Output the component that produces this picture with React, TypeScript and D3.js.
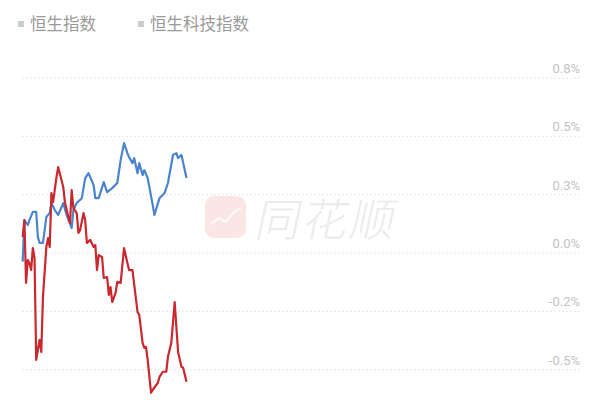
import { useEffect, useRef } from 'react';
import * as d3 from 'd3';

// minutes since open, % change
const hsiPoints: [number, number][] = [
  [0, 0.068], [1, 0.141], [2, -0.128], [3, -0.03], [4, -0.043], [5, -0.073], [6, 0.021],
  [7, -0.021], [8, -0.458], [10, -0.372], [11, -0.424], [12, -0.188], [14, 0.026], [15, 0.064],
  [16, 0.026], [17, 0.257], [18, 0.218], [20, 0.325], [21, 0.368], [24, 0.283], [25, 0.218],
  [27, 0.154], [28, 0.128], [29, 0.27], [30, 0.193], [32, 0.171], [33, 0.086], [34, 0.098],
  [36, 0.171], [37, 0.141], [38, 0.043], [40, 0.056], [42, 0.026], [43, 0.034], [44, -0.073],
  [45, -0.009], [47, -0.017], [48, -0.107], [50, -0.103], [51, -0.18], [52, -0.146], [53, -0.21],
  [55, -0.171], [56, -0.124], [58, -0.128], [60, 0.021], [62, -0.043], [63, -0.073], [65, -0.073],
  [68, -0.253], [69, -0.265], [71, -0.385], [72, -0.407], [73, -0.402], [74, -0.458], [76, -0.599],
  [77, -0.586], [80, -0.557], [81, -0.531], [83, -0.509], [85, -0.509], [86, -0.445], [88, -0.385],
  [90, -0.21], [91, -0.317], [92, -0.424], [94, -0.488], [95, -0.492], [97, -0.552],
];

const hstechPoints: [number, number][] = [
  [0, -0.037], [1, 0.141], [3, 0.12], [4, 0.141], [6, 0.176], [8, 0.176], [9, 0.068],
  [10, 0.043], [12, 0.043], [14, 0.154], [16, 0.171], [17, 0.214], [19, 0.184], [21, 0.163],
  [24, 0.214], [26, 0.163], [29, 0.107], [30, 0.184], [32, 0.214], [35, 0.235], [37, 0.321],
  [39, 0.342], [42, 0.291], [43, 0.235], [45, 0.235], [48, 0.304], [50, 0.261], [53, 0.278],
  [56, 0.3], [58, 0.398], [60, 0.471], [62, 0.428], [63, 0.411], [65, 0.385], [66, 0.407],
  [68, 0.342], [69, 0.385], [71, 0.334], [72, 0.355], [74, 0.321], [77, 0.205], [78, 0.163],
  [81, 0.235], [84, 0.257], [86, 0.3], [89, 0.42], [91, 0.428], [92, 0.407], [94, 0.42], [97, 0.321],
];

const tickValues = [0.75, 0.5, 0.25, 0, -0.25, -0.5];
const tickLabels = ['0.8%', '0.5%', '0.3%', '0.0%', '-0.2%', '-0.5%'];
const legendNames = ['恒生指数', '恒生科技指数'];

const TRADING_MINUTES = 330;
const W = 600;
const H = 400;

export default function App() {
  const svgRef = useRef<SVGSVGElement>(null);

  useEffect(() => {
    document.body.style.margin = '0';
    const svg = d3.select(svgRef.current);
    if (!svg.node()) return;
    svg.selectAll('*').remove();

    const x = d3.scaleLinear().domain([0, TRADING_MINUTES]).range([22.7, 580]);
    const y = d3.scaleLinear().domain([0, 0.75]).range([253, 78]);

    // watermark
    const wm = svg.append('g').attr('opacity', 0.9);
    wm.append('rect')
      .attr('x', 205).attr('y', 196).attr('width', 41).attr('height', 42).attr('rx', 9)
      .attr('fill', '#fbe4e4');
    wm.append('path')
      .attr('d', 'M211,224 L219,218 L226,222 L234,212 L241,208')
      .attr('fill', 'none').attr('stroke', '#fff').attr('stroke-width', 2).attr('opacity', 0.8);
    wm.append('text')
      .attr('x', 254).attr('y', 236)
      .attr('transform', 'skewX(-12) translate(50,0)')
      .attr('font-family', '"Noto Sans CJK SC", sans-serif')
      .attr('font-size', 45)
      .attr('font-weight', 300)
      .attr('fill', '#ebebeb')
      .attr('letter-spacing', 2)
      .text('同花顺');

    // grid
    const grid = svg.append('g');
    grid.selectAll('line')
      .data(tickValues)
      .join('line')
      .attr('x1', 22).attr('x2', 580)
      .attr('y1', (d) => y(d)).attr('y2', (d) => y(d))
      .attr('stroke', '#e6e6e6')
      .attr('stroke-width', 1)
      .attr('stroke-dasharray', '2,2');

    grid.selectAll('text')
      .data(tickValues)
      .join('text')
      .attr('x', 580)
      .attr('y', (d) => y(d) - 5)
      .attr('text-anchor', 'end')
      .attr('font-family', 'Roboto, "Noto Sans", sans-serif')
      .attr('font-size', 13)
      .attr('fill', '#c4c4c4')
      .text((_d, i) => tickLabels[i]);

    // lines
    const line = d3.line<[number, number]>()
      .x((d) => x(d[0]))
      .y((d) => y(d[1]));

    svg.append('path')
      .datum(hstechPoints)
      .attr('d', line)
      .attr('fill', 'none')
      .attr('stroke', '#4a84cf')
      .attr('stroke-width', 2.2)
      .attr('stroke-linejoin', 'round');

    svg.append('path')
      .datum(hsiPoints)
      .attr('d', line)
      .attr('fill', 'none')
      .attr('stroke', '#c9282e')
      .attr('stroke-width', 2.2)
      .attr('stroke-linejoin', 'round');

    // legend
    const legendX = [18, 138];
    const legend = svg.append('g')
      .selectAll('g')
      .data(legendNames)
      .join('g')
      .attr('transform', (_d, i) => `translate(${legendX[i]},0)`);
    legend.append('rect')
      .attr('x', 0).attr('y', 21).attr('width', 6).attr('height', 6)
      .attr('fill', '#cccccc');
    legend.append('text')
      .attr('x', 12).attr('y', 30)
      .attr('font-family', '"Noto Sans CJK SC", sans-serif')
      .attr('font-size', 16.5)
      .attr('fill', '#9a9a9a')
      .text((d) => d);
  }, []);

  return <svg ref={svgRef} width={W} height={H} style={{ display: 'block', background: '#fff' }} />;
}
